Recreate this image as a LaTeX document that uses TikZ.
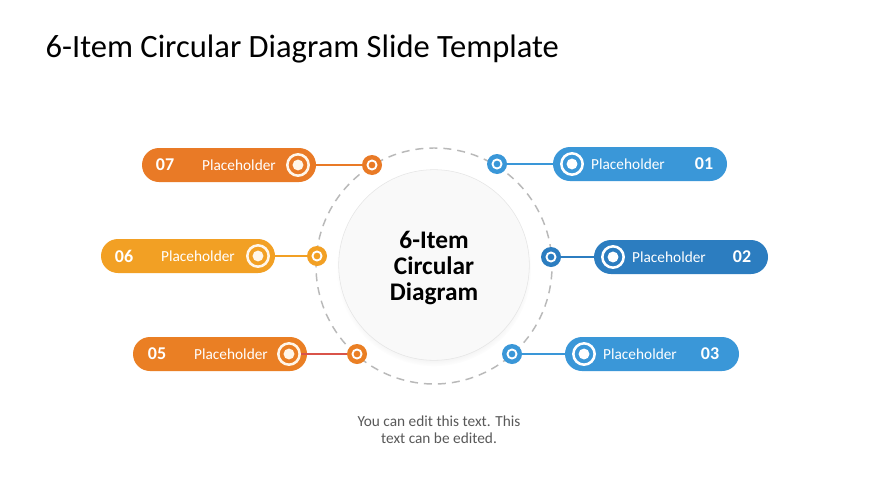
\documentclass[tikz,border=0pt]{standalone}
\usepackage{fontspec}
\setmainfont{Carlito}
\usetikzlibrary{shadows}

\definecolor{ora07}{HTML}{E97A26}
\definecolor{ora06}{HTML}{F2A024}
\definecolor{ora05}{HTML}{EA7F24}
\definecolor{red05}{HTML}{D9534A}
\definecolor{blu01}{HTML}{3A97D8}
\definecolor{blu02}{HTML}{2C7DC0}
\definecolor{blu03}{HTML}{3A97D8}
\definecolor{ringcol}{HTML}{FFF6EA}

\tikzset{
  pill/.style={rounded corners=12.75pt, minimum width=130.5pt, minimum height=25.5pt, inner sep=0pt},
  target/.style={circle, draw=ringcol, line width=1.9pt, minimum size=16pt, inner sep=0pt,
    path picture={\fill[ringcol] (path picture bounding box.center) circle (4.1pt);}},
  dot/.style={circle, fill=#1, minimum size=15pt, inner sep=0pt,
    path picture={\draw[white, line width=1.4pt] (path picture bounding box.center) circle (3.4pt);}},
  num/.style={text=white, font=\bfseries\fontsize{13.5}{14}\selectfont},
  lbl/.style={text=white, font=\fontsize{11.5}{12}\selectfont},
  link/.style={line width=1.5pt}
}

\begin{document}
\begin{tikzpicture}[x=0.75pt,y=-0.75pt]
\useasboundingbox[fill=white] (0,0) rectangle (870,489);

\node[anchor=base west, font=\fontsize{24.4}{28}\selectfont] (title) at (41,57) {6-Item Circular Diagram Slide Template};

% ring and centre
\draw[gray!55, line width=1.1pt, dash pattern=on 6pt off 4.5pt] (434,266) circle (88.5pt);
\node[circle, minimum size=143pt, fill=gray!5, draw=gray!20, line width=0.4pt,
  circular drop shadow={shadow xshift=0pt, shadow yshift=-3pt, shadow scale=1.02, opacity=0.18}] (hub) at (434,265) {};
\node[align=center, font=\bfseries\fontsize{19}{19.5}\selectfont] (hubtxt) at (434,268) {6-Item\\Circular\\Diagram};

% left side
\node[pill, fill=ora07] (p07) at (229,165) {};
\node[num] (n07) at (165,165) {07};
\node[lbl] (l07) at (239,165) {Placeholder};
\node[target] (t07) at (298,165) {};
\node[dot=ora07] (d07) at (372,165) {};
\draw[link, ora07] (t07) -- (d07);

\node[pill, fill=ora06] (p06) at (188,256) {};
\node[num] (n06) at (124,256) {06};
\node[lbl] (l06) at (198,256) {Placeholder};
\node[target] (t06) at (258,256) {};
\node[dot=ora06] (d06) at (317,256) {};
\draw[link, ora06] (t06) -- (d06);

\node[pill, fill=ora05] (p05) at (220,354) {};
\node[num] (n05) at (157,354) {05};
\node[lbl] (l05) at (231,354) {Placeholder};
\node[target] (t05) at (289,354) {};
\node[dot=ora05] (d05) at (357,354) {};
\draw[link, red05] (t05) -- (d05);

% right side
\node[pill, fill=blu01] (p01) at (640,164) {};
\node[target, draw=white, path picture={\fill[white] (path picture bounding box.center) circle (4.1pt);}] (t01) at (572,164) {};
\node[lbl] (l01) at (628,164) {Placeholder};
\node[num] (n01) at (704,164) {01};
\node[dot=blu01] (d01) at (497,164) {};
\draw[link, blu01] (d01) -- (t01);

\node[pill, fill=blu02] (p02) at (681,257) {};
\node[target, draw=white, path picture={\fill[white] (path picture bounding box.center) circle (4.1pt);}] (t02) at (613,257) {};
\node[lbl] (l02) at (669,257) {Placeholder};
\node[num] (n02) at (742,257) {02};
\node[dot=blu02] (d02) at (551,257) {};
\draw[link, blu02] (d02) -- (t02);

\node[pill, fill=blu03] (p03) at (652,354) {};
\node[target, draw=white, path picture={\fill[white] (path picture bounding box.center) circle (4.1pt);}] (t03) at (584,354) {};
\node[lbl] (l03) at (640,354) {Placeholder};
\node[num] (n03) at (710,354) {03};
\node[dot=blu03] (d03) at (512,354) {};
\draw[link, blu03] (d03) -- (t03);

% note
\node[align=center, text=black!65, font=\fontsize{11.5}{13}\selectfont] (note) at (439,430) {You can edit this text. This\\text can be edited.};
\end{tikzpicture}
\end{document}
